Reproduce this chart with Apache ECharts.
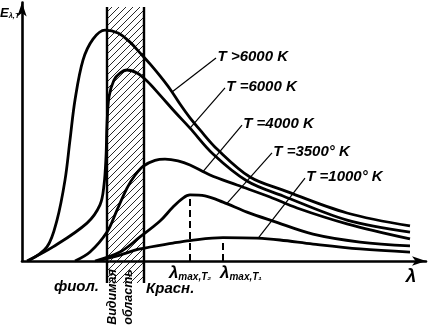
<!DOCTYPE html>
<html><head><meta charset="utf-8">
<script src="https://cdn.jsdelivr.net/npm/echarts@6/dist/echarts.min.js"></script>
<style>html,body{margin:0;padding:0;background:#fff}#c{width:432px;height:327px}</style>
</head><body><div id="c"></div>
<script>
// Wavelength λ and spectral emissivity E (arbitrary units)
const lamA = [1.5, 6.25, 8.75, 10.75, 12, 13.25, 15.25, 17.75, 20.75, 24, 27, 29.5, 32, 34.5, 37, 39.5, 42, 44.5, 48.75, 57, 65.25, 81.25, 97];
const eA   = [0, 5.5, 16.0, 31.6, 47.3, 62.9, 78.5, 86.7, 90.2, 89.1, 85.5, 81.3, 77.0, 72.3, 67.2, 61.3, 55.9, 51.2, 43.75, 32.8, 27.7, 18.75, 13.7];

const lamB = [1.25, 7.75, 16.25, 19.5, 20.5, 21, 21.25, 21.75, 23, 24.5, 26.25, 28.75, 31.25, 34.5, 38.25, 42, 47.75, 56.25, 65.25, 81.25, 97];
const eB   = [0, 5.5, 14.8, 21.9, 29.7, 40.6, 53.1, 64.1, 70.7, 73.4, 74.6, 73.4, 70.3, 64.8, 58.2, 51.9, 41.8, 31.25, 25.4, 16.0, 11.3];

const lamC = [13.25, 17, 21.25, 23.75, 26.25, 28.25, 30.25, 33.25, 35.75, 39, 42, 47, 53.75, 62, 68.75, 81.25, 97];
const eC   = [0, 3.5, 11.3, 19.9, 28.5, 33.5, 37.0, 39.3, 39.8, 39.1, 37.5, 33.6, 29.7, 25.0, 20.7, 14.5, 8.6];

const lamD = [18.25, 24.5, 29.5, 34.5, 37.75, 40.25, 42, 45.75, 50.25, 56.25, 62.75, 72.75, 84.5, 97];
const eD   = [0, 3.5, 9.4, 15.6, 21.1, 24.6, 25.8, 25.4, 23.0, 19.1, 15.6, 10.5, 7.4, 5.9];

const lamE = [18.75, 24.5, 29.5, 37.75, 42, 50.25, 58.75, 64.5, 72.75, 84.5, 97];
const eE   = [0, 2.3, 4.7, 7.0, 8.0, 9.1, 8.9, 8.2, 6.6, 4.7, 3.5];

const seriesNames = ['T >6000 K', 'T =6000 K', 'T =4000 K', 'T =3500° K', 'T =1000° K'];
// visible region of the spectrum (λ bounds)
const visibleBand = [21.25, 30.5];
const xMax = 101, yMax = 101;

const FONT = '"Liberation Sans","Arimo",Arial,sans-serif';

function zip(xs, ys){ return xs.map((x,i)=>[x, ys[i]]); }
function peak(xs, ys){ let k=0; ys.forEach((v,i)=>{ if(v>ys[k]) k=i; }); return [xs[k], ys[k]]; }

// leader lines: from a point on the curve to the label anchor
const leaders = [
  [[37.5, 66.0], [48.5, 79.3]],
  [[42, 51.9], [50.75, 67.6]],
  [[45.25, 34.9], [55, 53.1]],
  [[51.25, 22.5], [62.5, 42.2]],
  [[59, 8.8], [70.75, 32.4]]
];

const dataSets = [zip(lamA,eA), zip(lamB,eB), zip(lamC,eC), zip(lamD,eD), zip(lamE,eE)];
const pD = peak(lamD, eD), pE = peak(lamE, eE);

const series = dataSets.map((d, i) => {
  const s = {
    type: 'line', name: seriesNames[i], data: d, smooth: 0.35, symbol: 'none',
    lineStyle: { color: '#000', width: 2.8 }, silent: true, z: 3,
    markLine: {
      silent: true, symbol: ['none','none'], animation: false,
      lineStyle: { color: '#000', width: 1.2, type: 'solid' },
      label: { show: true, position: 'end', formatter: seriesNames[i], align: 'left', verticalAlign: 'middle',
               distance: 2, color: '#000', fontFamily: FONT, fontStyle: 'italic', fontWeight: 'bold', fontSize: 15 },
      data: [[{ coord: leaders[i][0] }, { coord: leaders[i][1] }]]
    }
  };
  if (i === 3 || i === 4) {
    const p = i === 3 ? pD : pE;
    s.markLine.data.push([
      { coord: [p[0], 0], lineStyle: { type: [7,4], width: 2 }, label: { show: false } },
      { coord: [p[0], p[1]] }
    ]);
  }
  return s;
});

const axisCommon = {
  type: 'value', axisTick: { show: false }, axisLabel: { show: false }, splitLine: { show: false },
  axisLine: { lineStyle: { color: '#000', width: 2.6 }, symbol: ['none','arrow'], symbolSize: [7, 14] }
};

const option = {
  animation: false,
  backgroundColor: '#fff',
  grid: { left: 22, right: 6, top: 327 - 66 - yMax * 2.56, bottom: 66, containLabel: false },
  xAxis: Object.assign({}, axisCommon, { min: 0, max: xMax }),
  yAxis: Object.assign({}, axisCommon, { min: 0, max: yMax }),
  series: series
};

const chart = echarts.init(document.getElementById('c'), null, { renderer: 'canvas' });
chart.setOption(option);

function hatch(){
  const c = document.createElement('canvas'); c.width = 7; c.height = 7;
  const g = c.getContext('2d'); g.strokeStyle = '#111'; g.lineWidth = 0.9;
  g.beginPath(); g.moveTo(0,7); g.lineTo(7,0); g.moveTo(-1,1); g.lineTo(1,-1); g.moveTo(6,8); g.lineTo(8,6); g.stroke();
  return c;
}
const P = (x, y) => chart.convertToPixel({ gridIndex: 0 }, [x, y]);
const bl = P(visibleBand[0], 99.2), br = P(visibleBand[1], -8.6);
const y0 = P(0, 0)[1];
const dPx = P(pD[0], 0)[0], ePx = P(pE[0], 0)[0];
const xEnd = P(xMax, 0)[0];
const txt = (extra) => Object.assign({ fill: '#000', fontFamily: FONT, fontStyle: 'italic', fontWeight: 'bold' }, extra);
const rich = {
  l: { fontSize: 17, fontFamily: FONT, fontStyle: 'italic', fontWeight: 'bold', verticalAlign: 'bottom', lineHeight: 18 },
  s: { fontSize: 10, fontFamily: FONT, fontStyle: 'italic', fontWeight: 'bold', verticalAlign: 'bottom', lineHeight: 12 }
};

chart.setOption({
  graphic: [
    { type: 'rect', z: 1, silent: true, shape: { x: bl[0], y: bl[1], width: br[0] - bl[0], height: br[1] - bl[1] },
      style: { fill: { image: hatch(), repeat: 'repeat' } } },
    { type: 'line', z: 5, silent: true, shape: { x1: bl[0], y1: bl[1], x2: bl[0], y2: br[1] }, style: { stroke: '#000', lineWidth: 2.4 } },
    { type: 'line', z: 5, silent: true, shape: { x1: br[0], y1: bl[1], x2: br[0], y2: br[1] }, style: { stroke: '#000', lineWidth: 2.4 } },
    { type: 'text', silent: true, style: txt({ text: 'фиол.', x: bl[0] - 8, y: y0 + 26, align: 'right', verticalAlign: 'middle', fontSize: 15 }) },
    { type: 'text', silent: true, style: txt({ text: 'Красн.', x: br[0] + 2, y: y0 + 28, align: 'left', verticalAlign: 'middle', fontSize: 15 }) },
    { type: 'text', silent: true, x: bl[0] + 6, y: y0 + 36, rotation: Math.PI / 2,
      style: txt({ text: 'Видимая', x: 0, y: 0, align: 'center', verticalAlign: 'middle', fontSize: 12.5 }) },
    { type: 'text', silent: true, x: bl[0] + 22, y: y0 + 36, rotation: Math.PI / 2,
      style: txt({ text: 'область', x: 0, y: 0, align: 'center', verticalAlign: 'middle', fontSize: 12.5 }) },
    { type: 'text', silent: true, style: { text: '{l|λ}{s|max,T₂}', rich: rich, x: dPx, y: y0 + 12, align: 'center', verticalAlign: 'middle', fill: '#000' } },
    { type: 'text', silent: true, style: { text: '{l|λ}{s|max,T₁}', rich: rich, x: ePx - 3, y: y0 + 12, align: 'left', verticalAlign: 'middle', fill: '#000' } },
    { type: 'text', silent: true, style: txt({ text: 'λ', x: xEnd - 15, y: y0 + 16, align: 'center', verticalAlign: 'middle', fontSize: 19 }) },
    { type: 'text', silent: true, style: { text: '{e|E}{s|λ,T}', x: 0, y: 13, align: 'left', verticalAlign: 'middle', fill: '#000',
      rich: { e: { fontSize: 13, fontFamily: FONT, fontStyle: 'italic', fontWeight: 'bold', verticalAlign: 'bottom', lineHeight: 14 },
              s: { fontSize: 7.5, fontFamily: FONT, fontStyle: 'italic', fontWeight: 'bold', verticalAlign: 'bottom', lineHeight: 9 } } } }
  ]
});
</script></body></html>
